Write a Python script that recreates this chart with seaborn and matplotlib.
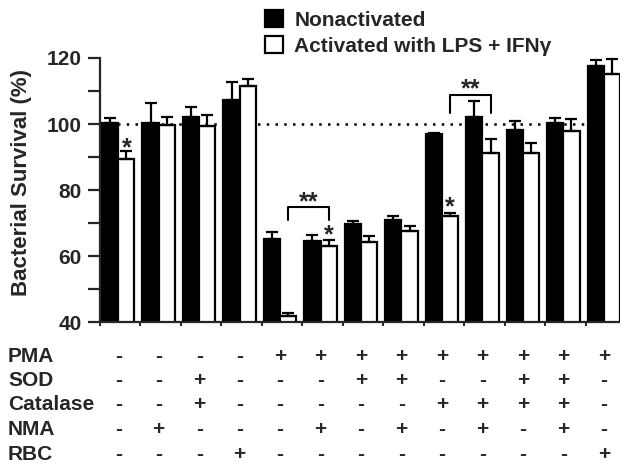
import numpy as np
import pandas as pd
import matplotlib
matplotlib.use("Agg")
import matplotlib.pyplot as plt
import seaborn as sns

# ---------------- data ----------------
conditions = ["Control", "NMA", "SOD+Cat", "RBC", "PMA", "PMA+NMA", "PMA+SOD",
              "PMA+SOD+NMA", "PMA+Cat", "PMA+Cat+NMA", "PMA+SOD+Cat",
              "PMA+SOD+Cat+NMA", "PMA+RBC"]
states = ["Nonactivated", "Activated with LPS + IFN\u03b3"]
nonactivated = [100.3, 100.4, 102.0, 107.3, 65.2, 64.6, 69.7, 71.0, 97.0, 102.0, 98.3, 100.4, 117.5]
nonactivated_err = [1.5, 5.9, 3.3, 5.4, 2.2, 1.7, 0.9, 1.2, 0.4, 5.0, 2.5, 1.5, 2.0]
activated = [89.5, 99.7, 99.4, 111.4, 41.9, 62.9, 64.3, 67.6, 72.0, 91.2, 91.3, 97.9, 115.2]
activated_err = [2.3, 2.3, 3.3, 2.3, 0.7, 2.0, 1.8, 1.4, 0.9, 4.4, 3.0, 3.6, 4.6]

row_names = ["PMA", "SOD", "Catalase", "NMA", "RBC"]
pma      = ["-", "-", "-", "-", "+", "+", "+", "+", "+", "+", "+", "+", "+"]
sod      = ["-", "-", "+", "-", "-", "-", "+", "+", "-", "-", "+", "+", "-"]
catalase = ["-", "-", "+", "-", "-", "-", "-", "-", "+", "+", "+", "+", "-"]
nma      = ["-", "+", "-", "-", "-", "+", "-", "+", "-", "+", "-", "+", "-"]
rbc      = ["-", "-", "-", "+", "-", "-", "-", "-", "-", "-", "-", "-", "+"]

single_stars = [(0, 92.6), (5, 66.3), (8, 74.8)]          # (group index of activated bar, y)
brackets = [(4, 5, 70.8, 74.7, 76.2), (8, 9, 103.4, 108.8, 110.4)]  # (g1, g2, leg bottom, top, ** y)

# ---------------- style ----------------
sns.set_style("ticks")
plt.rcParams["font.family"] = ["Liberation Sans", "DejaVu Sans"]
plt.rcParams["font.weight"] = "bold"

W, H = 620, 463
fig = plt.figure(figsize=(W / 100, H / 100), dpi=100)
ax_left, ax_right, ax_top, ax_bottom = 100, 620, 58, 322
ax = fig.add_axes([ax_left / W, 1 - ax_bottom / H, (ax_right - ax_left) / W, (ax_bottom - ax_top) / H])

df = pd.DataFrame({
    "condition": conditions * 2,
    "state": [states[0]] * len(conditions) + [states[1]] * len(conditions),
    "survival": nonactivated + activated,
})

ax.axhline(100, color="black", lw=1.8, dashes=(1, 2.5), zorder=0.5)

sns.barplot(data=df, x="condition", y="survival", hue="state", order=conditions,
            hue_order=states, palette={states[0]: "black", states[1]: "white"},
            edgecolor="black", linewidth=1.6, saturation=1, errorbar=None,
            width=0.8, ax=ax, zorder=2)

# error bars (upper only)
for cont, vals, errs in zip(ax.containers, [nonactivated, activated], [nonactivated_err, activated_err]):
    xs = [p.get_x() + p.get_width() / 2 for p in cont.patches]
    ax.errorbar(xs, vals, yerr=[np.zeros(len(vals)), errs], fmt="none", ecolor="black",
                elinewidth=1.6, capsize=4.5, capthick=1.6, zorder=3, clip_on=False)

act_x = [p.get_x() + p.get_width() / 2 for p in ax.containers[1].patches]
for g, y in single_stars:
    ax.text(act_x[g], y, "*", ha="center", va="center", fontsize=18, fontweight="bold")
for g1, g2, yb, yt, ys in brackets:
    ax.plot([act_x[g1], act_x[g1], act_x[g2], act_x[g2]], [yb, yt, yt, yb],
            color="black", lw=1.5, zorder=4)
    ax.text((act_x[g1] + act_x[g2]) / 2, ys, "**", ha="center", va="center",
            fontsize=18, fontweight="bold")

# axes
ax.set_ylim(40, 120)
ax.set_xlim(-0.45, 12.40)
ax.set_yticks([40, 60, 80, 100, 120])
ax.set_yticks([50, 70, 90, 110], minor=True)
ax.set_xticks(np.arange(len(conditions)) - 0.45)
ax.set_xticklabels([])
ax.tick_params(axis="y", which="both", length=9, width=1.6, direction="out", labelsize=15, pad=4)
ax.tick_params(axis="x", length=3, width=1.4, direction="out")
for lab in ax.get_yticklabels():
    lab.set_fontweight("bold")
ax.set_xlabel("")
ax.set_ylabel("Bacterial Survival (%)", fontsize=16, fontweight="bold")
ax.yaxis.set_label_coords(-0.13, 0.53)
sns.despine(ax=ax)
ax.spines["left"].set_linewidth(1.6)
ax.spines["bottom"].set_linewidth(1.6)

# legend
handles, labels = ax.get_legend_handles_labels()
if ax.get_legend() is not None:
    ax.get_legend().remove()
fig.legend(handles, labels, loc="upper left", bbox_to_anchor=(265 / W, 1 - 10 / H),
           frameon=False, handlelength=0.85, handleheight=0.85,
           handletextpad=0.55, labelspacing=0.32, borderpad=0, borderaxespad=0,
           prop={"weight": "bold", "size": 15})

# treatment table
rows = [pma, sod, catalase, nma, rbc]
row_y = [356, 380.5, 405, 429.5, 454]
centers = (np.array([p.get_x() + p.get_width() for p in ax.containers[0].patches]))
trans = matplotlib.transforms.blended_transform_factory(ax.transData, fig.transFigure)
for name, signs, ypx in zip(row_names, rows, row_y):
    yf = 1 - ypx / H
    fig.text(8 / W, yf, name, ha="left", va="center", fontsize=15, fontweight="bold")
    for xc, s in zip(centers, signs):
        fig.text(xc, yf, s, transform=trans, ha="center", va="center",
                 fontsize=15, fontweight="bold")

fig.savefig("out.png", dpi=100)
